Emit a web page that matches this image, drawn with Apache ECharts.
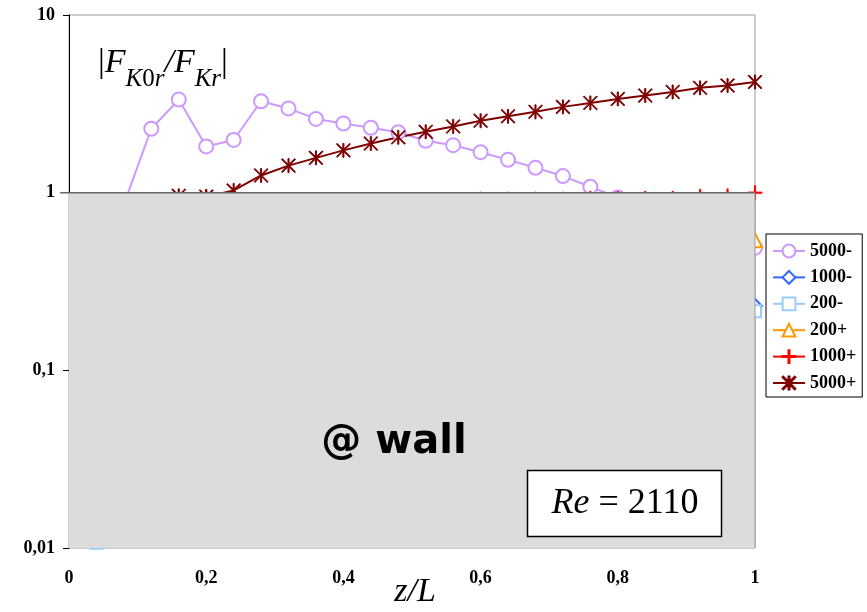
<!DOCTYPE html>
<html>
<head>
<meta charset="utf-8">
<script src="https://cdn.jsdelivr.net/npm/echarts@6/dist/echarts.min.js"></script>
<style>
html,body{margin:0;padding:0;background:#fff;}
#chart{width:867px;height:612px;}
</style>
</head>
<body>
<div id="chart"></div>
<script>
// ---- data ----
const zL = [0.04,0.08,0.12,0.16,0.2,0.24,0.28,0.32,0.36,0.4,0.44,0.48,0.52,0.56,0.6,0.64,0.68,0.72,0.76,0.8,0.84,0.88,0.92,0.96,1];
const s5000m = [0.5,0.86,2.29,3.34,1.82,1.98,3.27,2.98,2.6,2.45,2.32,2.19,1.96,1.85,1.69,1.53,1.38,1.24,1.08,0.94,0.82,0.72,0.63,0.55,0.49];
const s1000m = [0.18,0.3,0.45,0.6,0.55,0.5,0.55,0.6,0.58,0.55,0.52,0.5,0.47,0.44,0.42,0.39,0.37,0.34,0.32,0.3,0.28,0.27,0.25,0.24,0.23];
const s200m  = [0.0107,0.02,0.05,0.08,0.1,0.12,0.14,0.15,0.16,0.17,0.18,0.18,0.19,0.19,0.2,0.2,0.2,0.21,0.21,0.21,0.21,0.21,0.215,0.215,0.215];
const s200p  = [0.3,0.4,0.5,0.6,0.65,0.7,0.72,0.74,0.75,0.74,0.73,0.72,0.71,0.7,0.68,0.67,0.65,0.63,0.62,0.6,0.59,0.58,0.56,0.55,0.54];
const s1000p = [0.6,0.7,0.8,0.88,0.95,0.85,0.86,0.87,0.88,0.89,0.9,0.9,0.91,0.91,0.92,0.92,0.92,0.92,0.93,0.93,0.93,0.93,0.955,0.96,1.0];
const s5000p = [0.55,0.7,0.85,0.96,0.95,1.03,1.25,1.42,1.57,1.73,1.89,2.05,2.2,2.36,2.54,2.69,2.85,3.04,3.2,3.37,3.52,3.69,3.89,4.01,4.2];
const seriesNames = ['5000-','1000-','200-','200+','1000+','5000+'];
const yTickValues = [0.01,0.1,1,10];
const yTickLabels = ['0,01','0,1','1','10'];
const xTickValues = [0,0.2,0.4,0.6,0.8,1];
const xTickLabels = ['0','0,2','0,4','0,6','0,8','1'];
// region (data coordinates) shaded grey
const maskX = [0,1];
const maskY = [0.01,1];

const pair = arr => zL.map((x,i)=>[x,arr[i]]);
const PLUS = 'path://M0,4.6H10V5.4H0Z M4.6,0H5.4V10H4.6Z';
const STAR = 'path://M4.6,0H5.4V10H4.6Z M0,0.55L0.55,0L10,9.45L9.45,10Z M9.45,0L10,0.55L0.55,10L0,9.45Z';
const serif = '"Liberation Serif","Times New Roman",serif';

function lineSeries(name, data, color, symbol, size, extra){
  return Object.assign({
    name, type:'line', data:pair(data),
    symbol, symbolSize:size,
    lineStyle:{color, width:2},
    itemStyle:{color, borderColor:color, borderWidth:1},
    emphasis:{disabled:true},
    animation:false, z:3
  }, extra||{});
}

const chart = echarts.init(document.getElementById('chart'), null, {renderer:'canvas'});
chart.setOption({
  animation:false,
  backgroundColor:'#fff',
  grid:{left:69, top:15, width:686, height:533, show:true, borderColor:'#999', borderWidth:1, backgroundColor:'transparent'},
  xAxis:{
    type:'value', min:0, max:1, interval:0.2,
    axisLine:{show:false}, axisTick:{show:false}, splitLine:{show:false},
    axisLabel:{margin:21, color:'#000', fontFamily:serif, fontWeight:'bold', fontSize:18,
      formatter:v=>{const i=xTickValues.findIndex(t=>Math.abs(t-v)<1e-9);return i>=0?xTickLabels[i]:'';}}
  },
  yAxis:{
    type:'log', logBase:10, min:0.01, max:10,
    axisLine:{show:true, lineStyle:{color:'#000', width:1}},
    axisTick:{show:true, inside:false, length:6, lineStyle:{color:'#000'}},
    minorTick:{show:false}, splitLine:{show:false},
    axisLabel:{margin:14, color:'#000', fontFamily:serif, fontWeight:'bold', fontSize:18,
      formatter:v=>{const i=yTickValues.findIndex(t=>Math.abs(Math.log10(t)-Math.log10(v))<1e-6);return i>=0?yTickLabels[i]:'';}}
  },
  legend:{
    orient:'vertical', left:766, top:234,
    data:seriesNames,
    borderColor:'#000', borderWidth:1, padding:[8,6,5,6],
    itemWidth:32, itemHeight:16, itemGap:8.4,
    textStyle:{fontFamily:serif, fontWeight:'bold', fontSize:18, lineHeight:18, color:'#000'},
    selectedMode:false, backgroundColor:'#fff'
  },
  series:[
    lineSeries('5000-', s5000m, '#cc99ff', 'emptyCircle', 14),
    lineSeries('1000-', s1000m, '#3366ff', 'emptyDiamond', 14),
    lineSeries('200-',  s200m,  '#99ccff', 'emptyRect', 12, {clip:false}),
    lineSeries('200+',  s200p,  '#ff9900', 'emptyTriangle', 14),
    lineSeries('1000+', s1000p, '#ff0000', PLUS, 14),
    lineSeries('5000+', s5000p, '#800000', STAR, 14),
    {
      type:'custom', name:'mask', z:10, silent:true, animation:false,
      data:[[maskX[0], maskY[1], maskX[1], maskY[0]]],
      encode:{x:[0,2], y:[1,3]},
      clip:false,
      renderItem:(params, api)=>{
        const p0 = api.coord([api.value(0), api.value(1)]);
        const p1 = api.coord([api.value(2), api.value(3)]);
        return {type:'group', children:[
          {type:'rect', shape:{x:p0[0], y:p0[1], width:p1[0]-p0[0], height:p1[1]-p0[1]}, style:{fill:'#dcdcdc'}},
          {type:'line', shape:{x1:p0[0]-9, y1:p0[1], x2:p1[0], y2:p0[1]}, style:{stroke:'#666', lineWidth:1.5}},
          {type:'line', shape:{x1:p1[0], y1:p0[1], x2:p1[0], y2:p1[1]}, style:{stroke:'#999', lineWidth:1}}
        ]};
      }
    }
  ],
  graphic:[
    {type:'text', left:98, top:46, z:100,
      style:{
        text:'{u||}{n|F}{s|K}{s0|0}{s|r}{n|/F}{s|K}{s|r}{u||}',
        rich:{
          u:{fontFamily:serif, fontSize:34, lineHeight:40, verticalAlign:'top', fill:'#000'},
          n:{fontFamily:serif, fontSize:34, fontStyle:'italic', lineHeight:40, verticalAlign:'top', fill:'#000'},
          s:{fontFamily:serif, fontSize:25, fontStyle:'italic', lineHeight:25, padding:[21,0,0,0], verticalAlign:'top', fill:'#000'},
          s0:{fontFamily:serif, fontSize:25, lineHeight:25, padding:[21,0,0,0], verticalAlign:'top', fill:'#000'}
        }
      }},
    {type:'text', x:394, y:443, z:100,
      style:{text:'@ wall', font:'bold 40px "DejaVu Sans", Verdana, sans-serif', fill:'#000', align:'center', verticalAlign:'middle'}},
    {type:'rect', z:100, shape:{x:527.5, y:470.5, width:194, height:66}, style:{fill:'#fff', stroke:'#000', lineWidth:1.5}},
    {type:'text', x:625, y:504, z:101,
      style:{text:'{i|Re}{n| = 2110}', align:'center', verticalAlign:'middle',
        rich:{i:{fontFamily:serif, fontSize:36, fontStyle:'italic', fill:'#000'}, n:{fontFamily:serif, fontSize:36, fill:'#000'}}}},
    {type:'text', x:415, y:592, z:100,
      style:{text:'z/L', font:'italic 34px "Liberation Serif", "Times New Roman", serif', fill:'#000', align:'center', verticalAlign:'middle'}}
  ]
});
</script>
</body>
</html>
